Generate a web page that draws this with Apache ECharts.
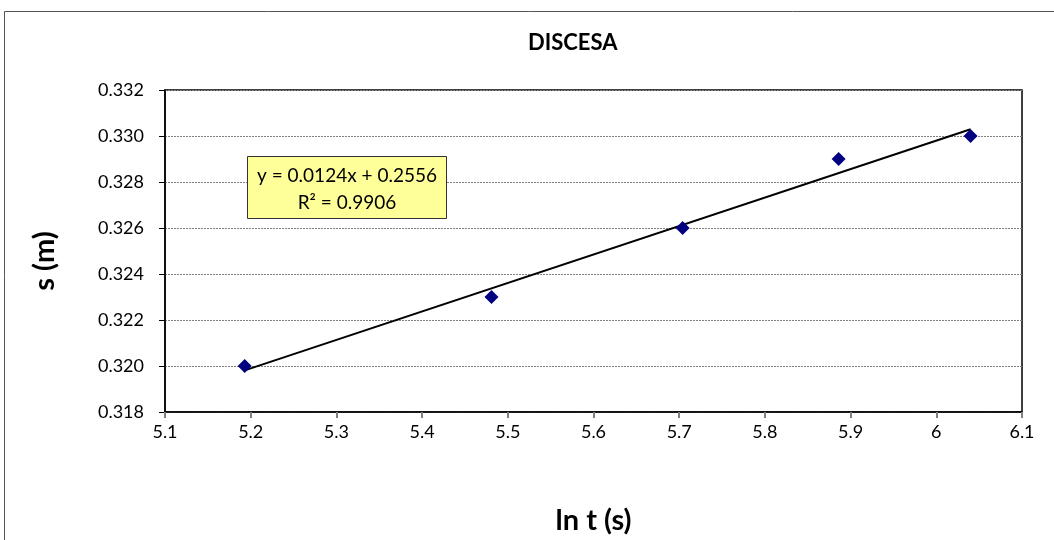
<!DOCTYPE html>
<html>
<head>
<meta charset="utf-8">
<script src="https://cdn.jsdelivr.net/npm/echarts@6/dist/echarts.min.js"></script>
<style>
  html, body { margin: 0; padding: 0; background: #fff; }
  #chart { width: 1054px; height: 540px; }
</style>
</head>
<body>
<div id="chart"></div>
<script>
// misure discesa: ln t (s) e s (m)
const lnT = [5.193, 5.481, 5.704, 5.886, 6.040]
const sMeters = [0.320, 0.323, 0.326, 0.329, 0.330]
const eqLines = ['y = 0.0124x + 0.2556', 'R² = 0.9906']

// retta di regressione (minimi quadrati) tra primo e ultimo punto
const n = lnT.length
const mx = lnT.reduce((a, b) => a + b, 0) / n
const my = sMeters.reduce((a, b) => a + b, 0) / n
let sxy = 0, sxx = 0
for (let i = 0; i < n; i++) {
  sxy += (lnT[i] - mx) * (sMeters[i] - my)
  sxx += (lnT[i] - mx) * (lnT[i] - mx)
}
const slope = sxy / sxx
const icpt = my - slope * mx
const xMin = Math.min(...lnT), xMax = Math.max(...lnT)
const trend = [[xMin, slope * xMin + icpt], [xMax, slope * xMax + icpt]]

const font = 'Lato, "Open Sans", sans-serif'
const chart = echarts.init(document.getElementById('chart'))

chart.setOption({
  animation: false,
  title: {
    text: 'DISCESA',
    left: 523,
    top: 27,
    textStyle: { fontFamily: font, fontSize: 22, fontWeight: 'bold', color: '#000' }
  },
  grid: { left: 165, right: 32, top: 90, bottom: 128, show: true, borderColor: '#000', borderWidth: 1.5 },
  xAxis: {
    type: 'value',
    min: 5.1,
    max: 6.1,
    interval: 0.1,
    name: 'ln t (s)',
    nameLocation: 'middle',
    nameGap: 94,
    nameTextStyle: { fontFamily: font, fontSize: 29, fontWeight: 'bold', color: '#000' },
    axisLine: { lineStyle: { color: '#000', width: 1.5 } },
    axisTick: { length: 6, lineStyle: { color: '#808080', width: 2 } },
    axisLabel: {
      margin: 11,
      fontFamily: font, fontSize: 18, color: '#000',
      formatter: v => String(+v.toFixed(1))
    },
    splitLine: { show: false }
  },
  yAxis: {
    type: 'value',
    min: 0.318,
    max: 0.332,
    interval: 0.002,
    axisLine: { show: true, lineStyle: { color: '#000', width: 1.5 } },
    axisTick: { show: true, length: 6, lineStyle: { color: '#000', width: 1 } },
    axisLabel: {
      margin: 21,
      fontFamily: font, fontSize: 18, color: '#000',
      formatter: v => v.toFixed(3)
    },
    splitLine: { show: true, lineStyle: { color: '#808080', type: [2, 1], width: 1 } }
  },
  series: [
    {
      type: 'line',
      data: trend,
      showSymbol: false,
      lineStyle: { color: '#000', width: 2 },
      z: 2
    },
    {
      type: 'scatter',
      data: lnT.map((x, i) => [x, sMeters[i]]),
      symbol: 'diamond',
      symbolSize: 14,
      itemStyle: { color: '#000080', opacity: 1 },
      z: 3
    }
  ],
  graphic: [
    {
      type: 'rect',
      shape: { x: 4.5, y: 11.5, width: 1200, height: 700 },
      style: { fill: null, stroke: '#555', lineWidth: 1 },
      silent: true
    },
    {
      type: 'text',
      x: 45, y: 261,
      rotation: Math.PI / 2,
      style: { text: 's (m)', fontFamily: font, fontSize: 29, fontWeight: 'bold', fill: '#000', align: 'center', verticalAlign: 'middle' }
    },
    {
      type: 'group',
      left: 247,
      top: 156,
      z: 100,
      children: [
        {
          type: 'rect',
          z: 100,
          shape: { x: 0, y: 0, width: 199, height: 62 },
          style: { fill: '#ffff99', stroke: '#333', lineWidth: 1 }
        },
        {
          type: 'text',
          z: 101,
          x: 99.5, y: 19,
          style: { text: eqLines[0], fontFamily: font, fontSize: 19, fill: '#000', align: 'center', verticalAlign: 'middle' }
        },
        {
          type: 'text',
          z: 101,
          x: 99.5, y: 46,
          style: { text: eqLines[1], fontFamily: font, fontSize: 19, fill: '#000', align: 'center', verticalAlign: 'middle' }
        }
      ]
    }
  ]
})
</script>
</body>
</html>
